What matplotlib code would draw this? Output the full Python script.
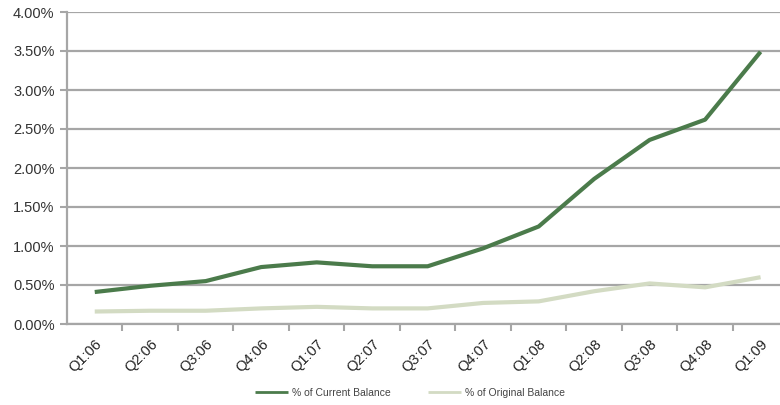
import numpy as np
import matplotlib as mpl
mpl.use('Agg')
import matplotlib.pyplot as plt
from matplotlib.ticker import FuncFormatter, FixedLocator

mpl.rcParams['font.family'] = ['Liberation Sans', 'DejaVu Sans']

#==================Data=====================
quarters = ['Q1:06', 'Q2:06', 'Q3:06', 'Q4:06', 'Q1:07', 'Q2:07', 'Q3:07',
            'Q4:07', 'Q1:08', 'Q2:08', 'Q3:08', 'Q4:08', 'Q1:09']
current_bal = [0.41, 0.49, 0.55, 0.73, 0.79, 0.74, 0.74, 0.97, 1.25, 1.86, 2.36, 2.62, 3.49]
original_bal = [0.16, 0.17, 0.17, 0.20, 0.22, 0.20, 0.20, 0.27, 0.29, 0.42, 0.52, 0.47, 0.60]
labels = ['% of Current Balance', '% of Original Balance']

#==================Plot=====================
fig = plt.figure(figsize=(7.8, 4.05), dpi=100)
# axes runs past the right edge, the source image is cropped there
ax = fig.add_axes([67/780, 81/405, 728/780, 312/405])

x = np.arange(len(quarters))
ax.plot(x, current_bal, color='#4b7b4b', lw=3.0, solid_joinstyle='round',
        solid_capstyle='butt', label=labels[0], zorder=3)
ax.plot(x, original_bal, color='#d3dbc3', lw=3.0, solid_joinstyle='round',
        solid_capstyle='butt', label=labels[1], zorder=3)

ax.set_xlim(-0.5, 12.62)
ax.set_ylim(0, 4.0)
ax.set_yticks(np.arange(0, 4.01, 0.5))
ax.yaxis.set_major_formatter(FuncFormatter(lambda v, p: '%.2f%%' % v))
ax.yaxis.grid(True, color='#a6a6a6', lw=1.6)
ax.set_axisbelow(True)

ax.set_xticks(x)
ax.set_xticklabels(quarters, rotation=45, ha='right', va='top',
                   rotation_mode='anchor', fontsize=10.5)
ax.xaxis.set_minor_locator(FixedLocator(np.arange(0.5, len(quarters) - 1, 1.0)))
ax.tick_params(axis='x', which='major', length=0, pad=9)
ax.tick_params(axis='x', which='minor', length=5, width=1.5, color='#a6a6a6', direction='out')
ax.tick_params(axis='y', length=5, width=1.5, color='#a6a6a6', labelsize=10.5,
               labelcolor='#333333', pad=4)
ax.tick_params(axis='x', labelcolor='#222222')

for s in ['top', 'right']:
    ax.spines[s].set_visible(False)
for s in ['left', 'bottom']:
    ax.spines[s].set_color('#a6a6a6')
    ax.spines[s].set_linewidth(1.6)

leg = fig.legend(loc='center', bbox_to_anchor=(410/780, 1 - 393/405), ncol=2,
                 frameon=False, fontsize=7.5, handlelength=3.2, handletextpad=0.4,
                 columnspacing=3.5, labelcolor='#444444')
for h in leg.get_lines():
    h.set_linewidth(2.0)

plt.savefig('out.png', dpi=100)
